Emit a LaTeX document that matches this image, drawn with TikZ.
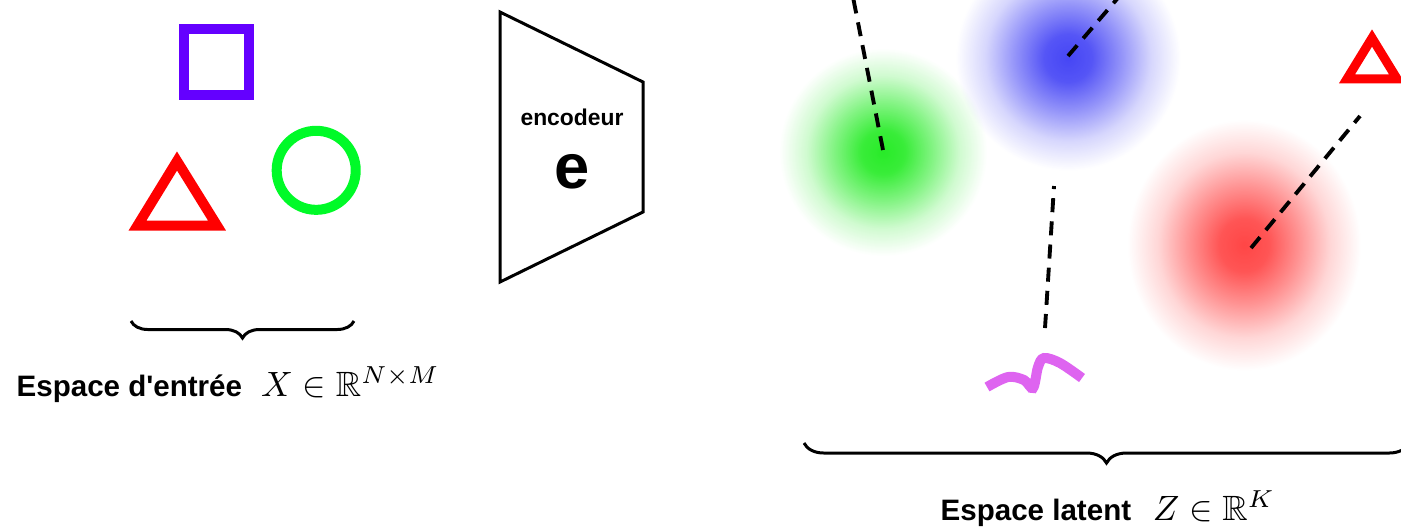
\documentclass[tikz,border=0pt]{standalone}
\usepackage{amssymb}
\usepackage{fontspec}
\usetikzlibrary{decorations.pathreplacing,fadings}
\newfontfamily\lblfont{Liberation Sans}
\definecolor{sqv}{RGB}{100,0,255}
\definecolor{ring}{RGB}{0,250,40}
\definecolor{tri}{RGB}{255,0,0}
\definecolor{squig}{RGB}{222,100,240}
\definecolor{gblob}{RGB}{40,235,40}
\definecolor{bblob}{RGB}{70,70,245}
\definecolor{rblob}{RGB}{255,70,70}
\pgfdeclareradialshading{blobshade}{\pgfpointorigin}{color(0bp)=(white);
  color(4bp)=(white!92!black); color(9bp)=(white!58!black);
  color(14bp)=(white!22!black); color(19bp)=(black); color(50bp)=(black)}
\begin{tikzfadingfrompicture}[name=blobfade]
  \shade[shading=blobshade] (-1cm,-1cm) rectangle (1cm,1cm);
\end{tikzfadingfrompicture}

\begin{document}
\begin{tikzpicture}[x=0.01cm, y=-0.01cm,
    outline/.style={line width=0.095cm, line join=miter},
    dashlink/.style={line width=1.1pt, dash pattern=on 4pt off 2.6pt},
    curly/.style={line width=0.85pt, decorate,
      decoration={brace, mirror, amplitude=#1}},
    lbl/.style={inner sep=0, font=\lblfont\bfseries}]
  \useasboundingbox (0,0) rectangle (1401,529);
  \clip (0,0) rectangle (1401,529);

  % input space
  \draw[outline, sqv] (184,29) rectangle (249,95);
  \draw[outline, tri, line width=0.1cm] (137.5,225.5) -- (217,225.5) -- (177,161) -- cycle;
  \draw[outline, ring, line width=0.1cm] (316.2,170.3) circle (0.395cm);
  \draw[curly=0.17cm] (131,321) -- (354,321);
  \node[lbl, anchor=base west] (inlbl) at (16,396)
    {\fontsize{8.4}{10}\selectfont Espace d'entrée\hspace{5.4pt}\fontsize{10}{12}\selectfont$X \in \mathbb{R}^{N\times M}$};

  % encoder
  \draw[line width=0.85pt, line join=miter] (500,12) -- (643,82) -- (643,212) -- (500,282) -- cycle;
  \node[lbl, anchor=base, font=\lblfont\bfseries\fontsize{6.5}{8}\selectfont] (enc) at (572,125) {encodeur};
  \node[lbl, anchor=base, font=\lblfont\bfseries\fontsize{18}{20}\selectfont] (encsym) at (572,188) {e};

  % latent space
  \fill[gblob, path fading=blobfade] (883,152) circle (1.2cm);
  \fill[bblob, path fading=blobfade] (1068,58) circle (1.3cm);
  \fill[rblob, path fading=blobfade] (1244,245) ellipse (1.35cm and 1.45cm);
  \draw[outline, tri, line width=0.09cm] (1347,78.8) -- (1397,78.8) -- (1372,38) -- cycle;

  \coordinate (gc) at (883,150);  \coordinate (gt) at (852,-8);
  \coordinate (bc) at (1068,56);  \coordinate (bt) at (1123,-8);
  \coordinate (rc) at (1251,248); \coordinate (rt) at (1360,116);
  \coordinate (mt) at (1054,186); \coordinate (mb) at (1045,328);
  \draw[dashlink] (gc) -- (gt);
  \draw[dashlink] (bc) -- (bt);
  \draw[dashlink] (rc) -- (rt);
  \draw[dashlink] (mb) -- (mt);

  \draw[squig, line width=0.1cm] plot[smooth, tension=0.55] coordinates
    {(987,387) (1008,377) (1024,380) (1033,388) (1038,367) (1044,358) (1060,363) (1082,378)};

  \draw[curly=0.2cm] (804,443) -- (1409,443);
  \node[lbl, anchor=base west] (latlbl) at (940,520)
    {\fontsize{8.4}{10}\selectfont Espace latent\hspace{6.2pt}\fontsize{10}{12}\selectfont$Z \in \mathbb{R}^{K}$};
\end{tikzpicture}
\end{document}
